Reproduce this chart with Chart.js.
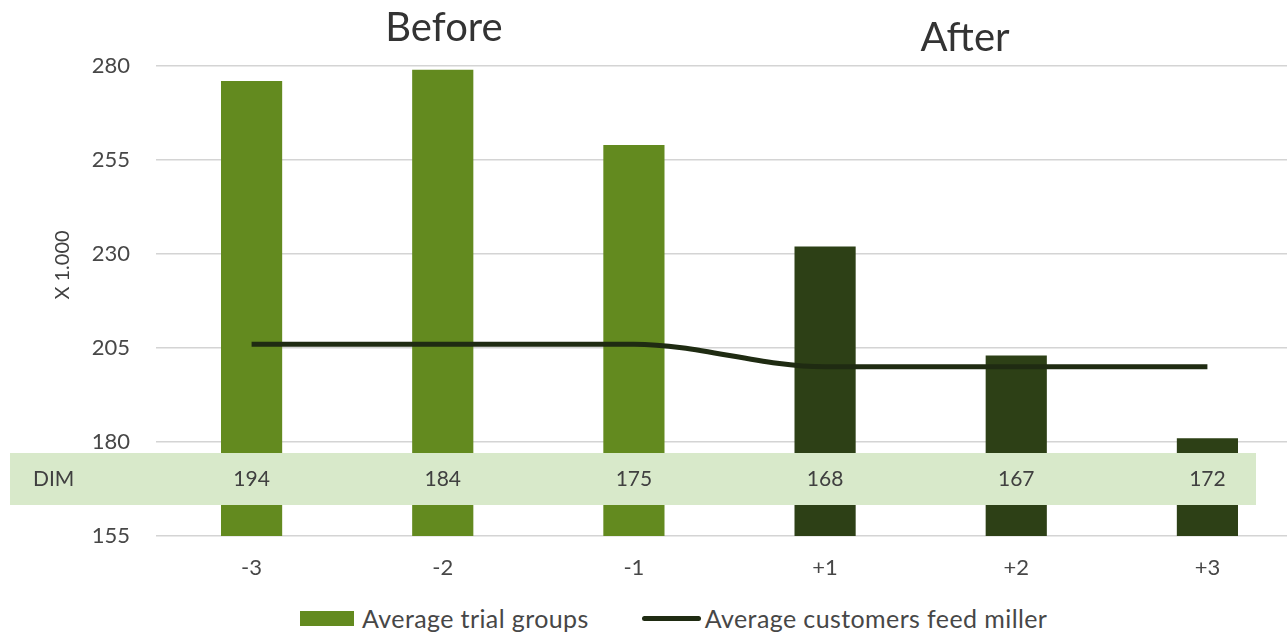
<!DOCTYPE html>
<html>
<head>
<meta charset="utf-8">
<script src="https://cdn.jsdelivr.net/npm/chart.js@4.4.1/dist/chart.umd.min.js"></script>
<style>
  html, body { margin: 0; padding: 0; background: #fff; overflow: hidden; }
  #wrap { position: relative; width: 1303px; height: 600px; }
  #legend { position: absolute; top: 604px; left: 300px; height: 28px; display: flex; align-items: center;
            font-family: Lato, sans-serif; font-size: 25px; letter-spacing: 0.4px; color: #474747; white-space: nowrap; }
  .item { display: flex; align-items: center; margin-right: 53px; }
  .swatch { display: inline-block; }
</style>
</head>
<body>
<div id="wrap"><canvas id="chart"></canvas></div>
<div id="legend"></div>
<script>
// periods around the switch (before: -3..-1, after: +1..+3)
const periods = ['-3', '-2', '-1', '+1', '+2', '+3'];
const trialGroups = [276, 279, 259, 232, 203, 181];
const customersMiller = [206, 206, 206, 200, 200, 200];
const dim = [194, 184, 175, 168, 167, 172];
const yTicks = { min: 155, max: 280, step: 25 };

const lightGreen = '#638a1f';
const darkGreen = '#2d4016';
const lineColor = '#1f2b12';
const barColors = periods.map(p => p.startsWith('-') ? lightGreen : darkGreen);

const font = 'Lato, sans-serif';
const textColor = '#474747';

// DIM row drawn as a band over the lower part of the bars
const dimBand = {
  id: 'dimBand',
  afterDatasetsDraw(chart) {
    const { ctx, chartArea, scales: { x } } = chart;
    const top = chartArea.bottom - 83, h = 52;
    ctx.save();
    ctx.fillStyle = '#d8e9ca';
    ctx.fillRect(10, top, 1246, h);
    ctx.fillStyle = '#404040';
    ctx.font = '21px ' + font;
    ctx.textBaseline = 'middle';
    ctx.textAlign = 'left';
    ctx.fillText('DIM', 33, top + h / 2);
    ctx.textAlign = 'center';
    dim.forEach((v, i) => ctx.fillText(String(v), x.getPixelForValue(i), top + h / 2));
    ctx.restore();
  }
};

// "Before" / "After" headings and the rotated axis unit
const headings = {
  id: 'headings',
  afterDraw(chart) {
    const { ctx } = chart;
    ctx.save();
    ctx.fillStyle = '#333333';
    ctx.font = '40px ' + font;
    ctx.textAlign = 'center';
    ctx.textBaseline = 'alphabetic';
    ctx.fillText('Before', 444, 41);
    ctx.fillText('After', 965, 51);

    ctx.fillStyle = '#404040';
    ctx.font = '20px ' + font;
    ctx.translate(63, 265);
    ctx.rotate(-Math.PI / 2);
    ctx.textBaseline = 'middle';
    ctx.fillText('X 1.000', 0, 0);
    ctx.restore();
  }
};

const tickFont = { family: font, size: 22 };

const chart = new Chart(document.getElementById('chart'), {
  type: 'bar',
  data: {
    labels: periods,
    datasets: [
      {
        type: 'line',
        label: 'Average customers feed miller',
        data: customersMiller,
        borderColor: lineColor,
        borderWidth: 5,
        pointRadius: 0,
        cubicInterpolationMode: 'monotone',
        order: 0
      },
      {
        type: 'bar',
        label: 'Average trial groups',
        data: trialGroups,
        backgroundColor: barColors,
        barPercentage: 0.32,
        categoryPercentage: 1,
        order: 1
      }
    ]
  },
  options: {
    responsive: true,
    maintainAspectRatio: false,
    animation: false,
    layout: { padding: { top: 66, bottom: 8, left: 0, right: 0 } },
    plugins: {
      legend: { display: false },
      tooltip: { enabled: false }
    },
    scales: {
      x: {
        grid: { display: false },
        border: { display: false },
        ticks: { color: textColor, font: tickFont, padding: 11 },
        afterFit: s => { s.height = 56; }
      },
      y: {
        min: yTicks.min,
        max: yTicks.max,
        ticks: { stepSize: yTicks.step, color: textColor, font: tickFont, padding: 26 },
        grid: { color: '#d4d4d4', lineWidth: 1.5, drawTicks: false },
        border: { display: false },
        afterFit: s => { s.width = 156; }
      }
    }
  },
  plugins: [dimBand, headings]
});

// legend under the plot, bar entry first
const legendEl = document.getElementById('legend');
[chart.data.datasets[1], chart.data.datasets[0]].forEach(ds => {
  const item = document.createElement('span');
  item.className = 'item';
  const sw = document.createElement('span');
  sw.className = 'swatch';
  if (ds.type === 'line') {
    sw.style.cssText = `width:59px;height:5px;background:${ds.borderColor};border-radius:3px;margin-right:4px`;
  } else {
    sw.style.cssText = `width:54px;height:15px;background:${ds.backgroundColor[0]};margin-right:8px`;
  }
  item.appendChild(sw);
  item.appendChild(document.createTextNode(ds.label));
  legendEl.appendChild(item);
});
</script>
</body>
</html>
